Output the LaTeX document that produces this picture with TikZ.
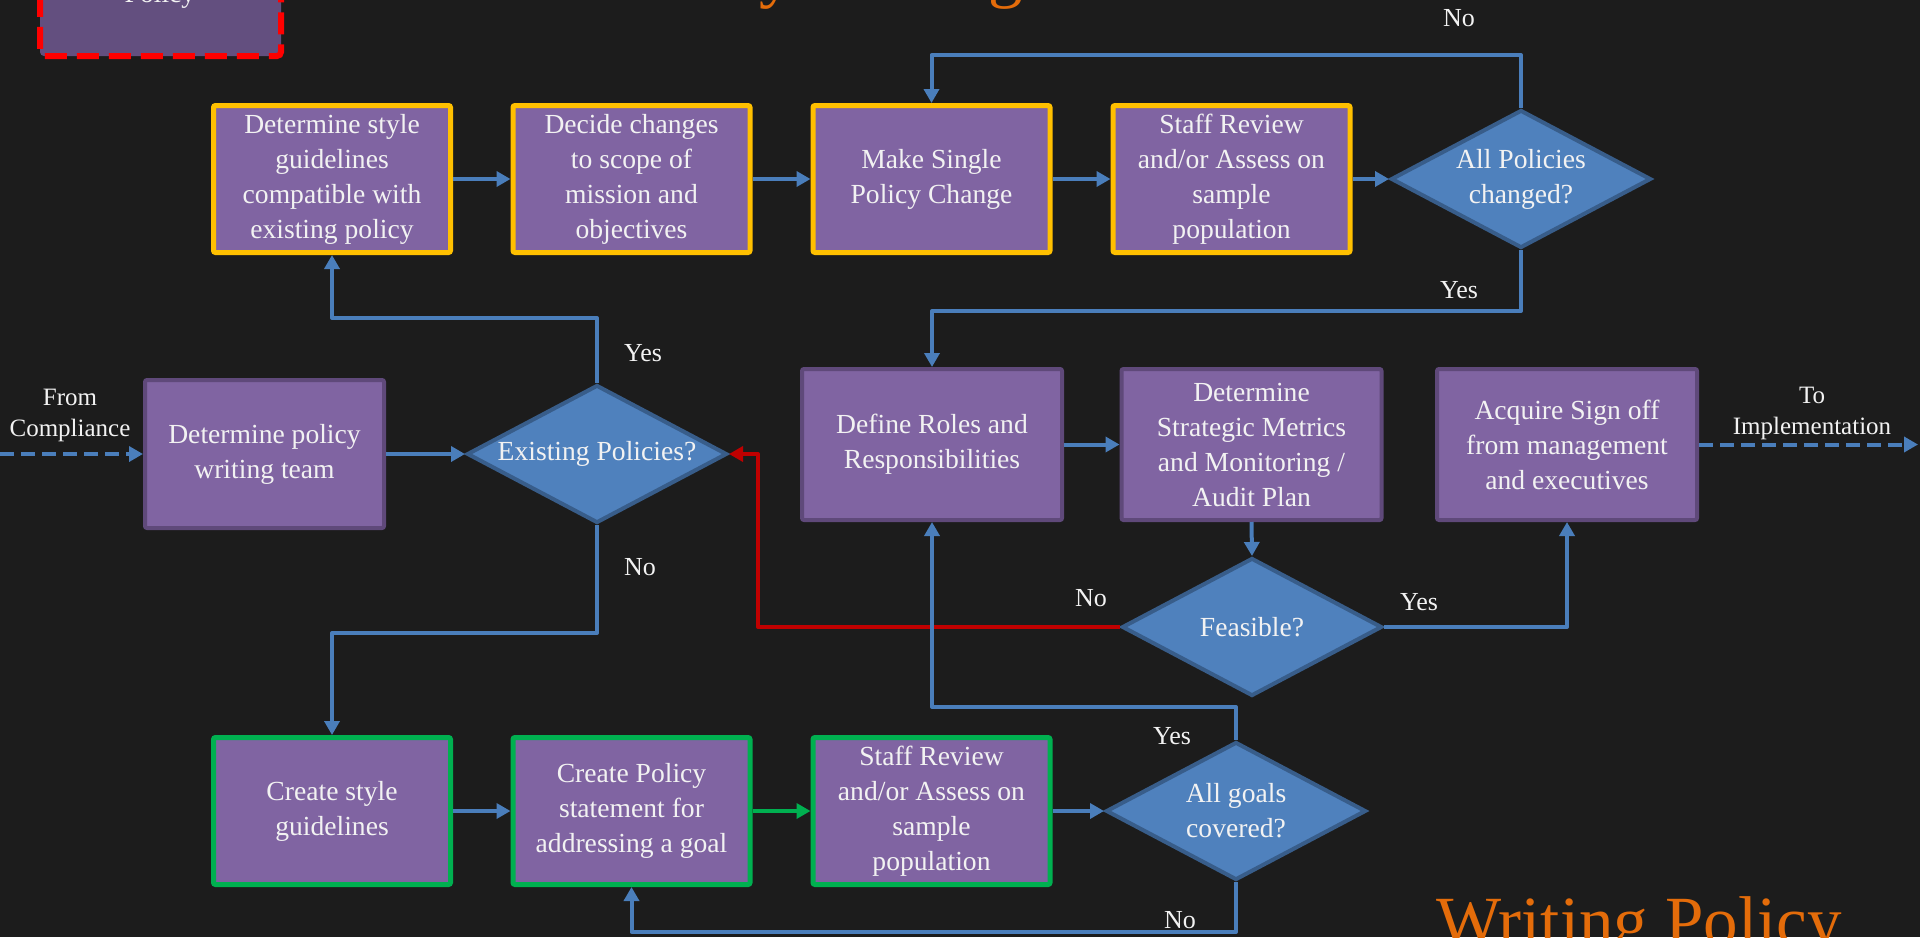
\documentclass[tikz,border=0pt]{standalone}
\usepackage{fontspec}
\setmainfont{Liberation Serif}
\usetikzlibrary{arrows.meta,shapes.geometric}
\definecolor{bg}{HTML}{1C1C1C}
\definecolor{boxfill}{HTML}{8064A2}
\definecolor{boxborder}{HTML}{5F497A}
\definecolor{ybord}{HTML}{FFC000}
\definecolor{gbord}{HTML}{00B050}
\definecolor{diafill}{HTML}{4F81BD}
\definecolor{diaborder}{HTML}{385D8A}
\definecolor{connblue}{HTML}{4A7EBB}
\definecolor{connred}{HTML}{C00000}
\definecolor{redbord}{HTML}{FF0000}
\definecolor{redfill}{HTML}{634F7F}
\definecolor{orangetxt}{HTML}{E46C0A}
\definecolor{txt}{HTML}{F2F2F2}
\begin{document}
\begin{tikzpicture}[x=0.5pt,y=-0.5pt,
  basebox/.style={rectangle, fill=boxfill, text=txt, align=center,
    font=\fontsize{13.8}{17.5}\selectfont, inner sep=0pt, rounded corners=1pt},
  ybox/.style={basebox, draw=ybord, line width=2.5pt, minimum width=118.5pt, minimum height=73.5pt},
  gbox/.style={basebox, draw=gbord, line width=2.5pt, minimum width=118.5pt, minimum height=73.5pt},
  pbox/.style={basebox, draw=boxborder, line width=2pt, minimum width=130pt, minimum height=75.5pt},
  pboxa/.style={basebox, draw=boxborder, line width=2pt, minimum width=119.5pt, minimum height=74pt},
  dia/.style={diamond, shape aspect=1.88, fill=diafill, draw=diaborder, line width=2pt,
    text=txt, align=center, font=\fontsize{13.8}{17.5}\selectfont, inner sep=0pt,
    minimum width=130pt, minimum height=69pt},
  conn/.style={draw=connblue, line width=2pt, line join=round, -{Triangle[length=7pt,width=7.5pt]}},
  rconn/.style={conn, draw=connred, -{Triangle[length=7pt,width=7.5pt,fill=connred]}},
  dconn/.style={conn, dash pattern=on 7pt off 3.5pt},
  lbl/.style={text=txt, font=\fontsize{13}{15.5}\selectfont, inner sep=0pt, align=center},
  sidelbl/.style={text=txt, font=\fontsize{12.5}{15.5}\selectfont, inner sep=0pt, align=center},
  bigtitle/.style={text=orangetxt, font=\fontsize{34.5}{40}\selectfont, inner sep=0pt}
]
\useasboundingbox (0,0) rectangle (1920,937);
\fill[bg] (0,0) rectangle (1920,937);

% titles (mostly off the page)
\node[bigtitle, anchor=base west] (toptitle) at (617,-5) {Policy Writing};
\node[bigtitle, anchor=base west] (bottitle) at (1436,944) {Writing Policy};

% red dashed box at top left
\node[rectangle, fill=redfill, draw=redbord, line width=3pt, dash pattern=on 11pt off 5pt,
  rounded corners=2pt, minimum width=120.5pt, minimum height=73pt] (redbox) at (160.5,-17) {};
\node[text=txt, font=\fontsize{13.8}{17.5}\selectfont, inner sep=0pt] (redtext) at (160,-4) {Policy};

% row 1
\node[ybox] (A1) at (332,179) {Determine style\\guidelines\\compatible with\\existing policy};
\node[ybox] (A2) at (631.5,179) {Decide changes\\to scope of\\mission and\\objectives};
\node[ybox] (A3) at (931.5,179) {Make Single\\Policy Change};
\node[ybox] (A4) at (1231.5,179) {Staff Review\\and/or Assess on\\sample\\population};
\node[dia] (D1) at (1521,179) {All Policies\\changed?};

% row 2
\node[pboxa] (B0) at (264.5,454) {Determine policy\\writing team};
\node[dia] (D2) at (597,454) {Existing Policies?};
\node[pbox] (B1) at (932,444.5) {Define Roles and\\Responsibilities};
\node[pbox] (B2) at (1251.5,444.5) {Determine\\Strategic Metrics\\and Monitoring /\\Audit Plan};
\node[pbox] (B3) at (1567,444.5) {Acquire Sign off\\from management\\and executives};
\node[dia] (D3) at (1252,627) {Feasible?};

% row 3
\node[gbox] (C1) at (332,811) {Create style\\guidelines};
\node[gbox] (C2) at (631.5,811) {Create Policy\\statement for\\addressing a goal};
\node[gbox] (C3) at (931.5,811) {Staff Review\\and/or Assess on\\sample\\population};
\node[dia] (D4) at (1236,811) {All goals\\covered?};

% free ends
\coordinate (fromc) at (0,454);
\coordinate (toimpl) at (1918,444.5);

% connectors
\draw[dconn] (fromc) -- (B0.west);
\draw[conn] (B0.east) -- (D2.west);
\draw[conn] (D2.north) -- ++(0,-65) -| (A1.south);
\draw[conn] (D2.south) -- ++(0,108) -| (C1.north);
\draw[conn] (A1.east) -- (A2.west);
\draw[conn] (A2.east) -- (A3.west);
\draw[conn] (A3.east) -- (A4.west);
\draw[conn] (A4.east) -- (D1.west);
\draw[conn] (D1.north) -- ++(0,-53) -| (A3.north);
\draw[conn] (D1.south) -- ++(0,61) -| (B1.north);
\draw[conn] (B1.east) -- (B2.west);
\draw[conn] (B2.south) -- (D3.north);
\draw[conn] (D3.east) -| (B3.south);
\draw[rconn] (D3.west) -- ++(-362,0) |- (D2.east);
\draw[dconn] (B3.east) -- (toimpl);
\draw[conn] (C1.east) -- (C2.west);
\draw[conn, draw=gbord, -{Triangle[length=7pt,width=7.5pt,fill=gbord]}] (C2.east) -- (C3.west);
\draw[conn] (C3.east) -- (D4.west);
\draw[conn] (D4.north) -- ++(0,-33) -| (B1.south);
\draw[conn] (D4.south) -- ++(0,50) -| (C2.south);

% labels
\node[sidelbl] (lfrom) at (70,415) {From\\Compliance};
\node[sidelbl] (lto) at (1812,413) {To\\Implementation};
\node[lbl] (lyes1) at (643,353) {Yes};
\node[lbl] (lno1) at (640,567) {No};
\node[lbl] (lno2) at (1459,18) {No};
\node[lbl] (lyes2) at (1459,290) {Yes};
\node[lbl] (lyes3) at (1419,602) {Yes};
\node[lbl] (lno3) at (1091,598) {No};
\node[lbl] (lyes4) at (1172,736) {Yes};
\node[lbl] (lno4) at (1180,920) {No};
\end{tikzpicture}
\end{document}
